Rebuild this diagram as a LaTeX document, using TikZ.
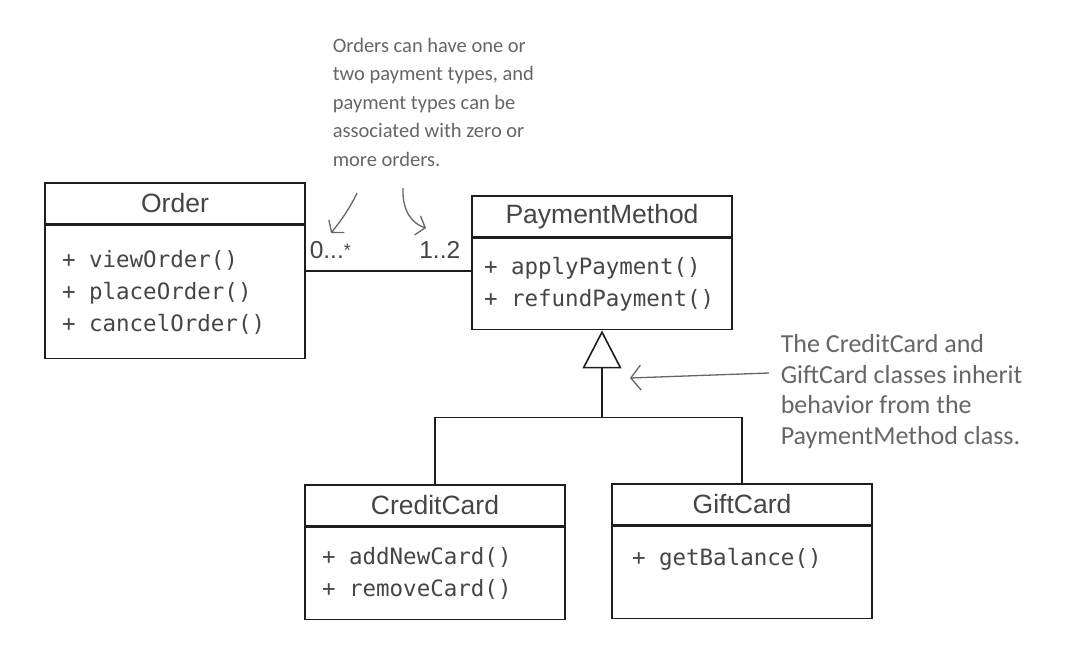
\documentclass[tikz,border=0pt]{standalone}
\usepackage{fontspec}
\setmainfont{Liberation Sans}
\setmonofont{DejaVu Sans Mono}
\newfontfamily\handfont{Carlito}
\usetikzlibrary{arrows.meta,positioning,calc}
\definecolor{inkgray}{HTML}{454545}
\definecolor{notegray}{HTML}{666666}
\definecolor{linegray}{HTML}{1E1E1E}
\newcommand{\op}[1]{+\hspace{.6em}#1}

\begin{document}
\begin{tikzpicture}[x=1pt,y=-1pt,line width=1.6pt,draw=linegray,
  classhead/.style={draw=linegray,minimum width=260pt,minimum height=41pt,inner sep=0pt,
    text=inkgray,font=\fontsize{26.5}{30}\selectfont},
  classbody/.style={draw=linegray,minimum width=260pt,inner xsep=17pt,inner ysep=0pt,text width=226pt,
    align=left,text=inkgray,font=\ttfamily\fontsize{22.5}{32}\selectfont},
  mult/.style={inner sep=0pt,text=inkgray,font=\fontsize{24.5}{26}\selectfont},
  note/.style={align=left,text=notegray,inner sep=0pt},
  notearrow/.style={notegray,line width=1.3pt,-{Straight Barb[length=8pt,width=20pt]}}]
  \useasboundingbox (0,0) rectangle (1066,657);
  \node[classhead] (order) at (175,203.5) {Order};
  \node[classbody,minimum height=133pt,below=0pt of order] (order-ops)
    {\op{viewOrder()}\\\op{placeOrder()}\\\op{cancelOrder()}};
  \node[classhead] (pay) at (602,216.5) {PaymentMethod};
  \node[classbody,minimum height=91pt,inner xsep=12pt,text width=236pt,below=0pt of pay] (pay-ops)
    {\op{applyPayment()}\\\op{refundPayment()}};
  \node[classhead] (credit) at (435,505.5) {CreditCard};
  \node[classbody,minimum height=92pt,below=0pt of credit] (credit-ops)
    {\op{addNewCard()}\\\op{removeCard()}};
  \node[classhead] (gift) at (742,504.5) {GiftCard};
  \node[classbody,minimum height=92pt,inner xsep=20pt,text width=220pt,below=0pt of gift] (gift-ops)
    {\op{getBalance()}\\\mbox{}};

  \coordinate (assoc) at (pay-ops.west |- 0,271);
  \draw (order-ops.east |- assoc) -- (assoc);
  \node[mult,anchor=base west] (m-order) at (309,258)
    {0...\raisebox{2pt}{\fontsize{18}{18}\selectfont*}};
  \node[mult,anchor=base east] (m-pay) at (461,258) {1..2};

  \coordinate (split) at ($(pay-ops.south)+(0,87)$);
  \draw (credit.north) |- (split) -| (gift.north);
  \draw[-{Triangle[open,length=38pt,width=39pt]}] (split) -- (pay-ops.south);

  \node[note,anchor=north west,font=\handfont\fontsize{20.5}{28.5}\selectfont] (assoc-note) at (332,37)
    {Orders can have one or\\two payment types, and\\payment types can be\\associated with zero or\\more orders.};
  \coordinate (a1) at (357,193);
  \coordinate (a1-end) at (331,233);
  \draw[notearrow] (a1) .. controls (350,208) and (340,222) .. (a1-end);
  \coordinate (a2) at (403,188);
  \coordinate (a2-end) at (426,228);
  \draw[notearrow] (a2) .. controls (402,212) and (413,224) .. (a2-end);

  \node[note,anchor=north west,font=\handfont\fontsize{26}{30.5}\selectfont] (inherit-note) at (780,334)
    {The CreditCard and\\GiftCard classes inherit\\behavior from the\\PaymentMethod class.};
  \coordinate (a3) at (769,373);
  \coordinate (a3-end) at (630,378);
  \draw[notearrow,-{Straight Barb[length=10pt,width=25pt]}] (a3) -- (a3-end);
\end{tikzpicture}
\end{document}
